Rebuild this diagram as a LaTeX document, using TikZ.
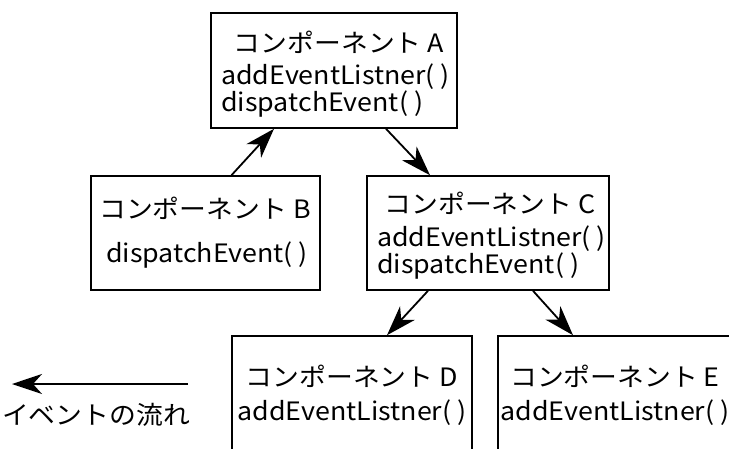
\documentclass[tikz,border=0pt]{standalone}
\usepackage{fontspec}
\setmainfont{Noto Sans CJK JP}
\newfontfamily\jpwide[FakeStretch=1.06]{Noto Sans CJK JP}
\usetikzlibrary{arrows.meta,calc}
\begin{document}
\begin{tikzpicture}[x=1pt,y=-1pt,
  box/.style={draw=black,line width=1.6pt,inner sep=0pt},
  txt/.style={inner sep=0pt,font=\jpwide\fontsize{25.3}{21.5}\selectfont},
  ttl/.style={txt,anchor=base},
  mth/.style={txt,anchor=base west,align=left},
  mthc/.style={txt,anchor=base},
  flow/.style={line width=1.8pt,-{Stealth[length=30pt,width=20pt,inset=9pt]}}]
\useasboundingbox (0,0) rectangle (729,448);
\clip (0,0) rectangle (729,448);
% boxes
\node[box,minimum width=246pt,minimum height=115pt] (A) at (334,70.5) {};
\node[box,minimum width=229pt,minimum height=114pt] (B) at (205.5,233) {};
\node[box,minimum width=242pt,minimum height=114pt] (C) at (488,233) {};
\node[box,minimum width=240pt,minimum height=140pt] (D) at (352,406) {};
\node[box,minimum width=242pt,minimum height=140pt] (E) at (619,406) {};
% texts
\node[ttl] (At) at (339,52) {コンポーネント A};
\node[mth] (Am) at (221,111) {addEventListner( )\\dispatchEvent( )};
\node[ttl] (Bt) at (205,218) {コンポーネント B};
\node[mthc] (Bm) at (207,262) {dispatchEvent( )};
\node[ttl] (Ct) at (490,213) {コンポーネント C};
\node[mth] (Cm) at (377,273) {addEventListner( )\\dispatchEvent( )};
\node[ttl] (Dt) at (352,386) {コンポーネント D};
\node[mthc] (Dm) at (352,420) {addEventListner( )};
\node[ttl] (Et) at (615,386) {コンポーネント E};
\node[mthc] (Em) at (615,420) {addEventListner( )};
% connectors
\draw[flow] ($(B.north)+(26,0)$) -- ($(A.south)+(-60,0)$);
\draw[flow] ($(A.south)+(52,0)$) -- ($(C.north)+(-58,0)$);
\draw[flow] ($(C.south)+(-60,0)$) -- ($(D.north)+(35,0)$);
\draw[flow] ($(C.south)+(45,0)$) -- ($(E.north)+(-46,0)$);
% legend
\coordinate (L1) at (188,384);
\coordinate (L2) at (12,384);
\draw[flow] (L1) -- (L2);
\node[txt,anchor=base] (Lt) at (96,424) {イベントの流れ};
\end{tikzpicture}
\end{document}
